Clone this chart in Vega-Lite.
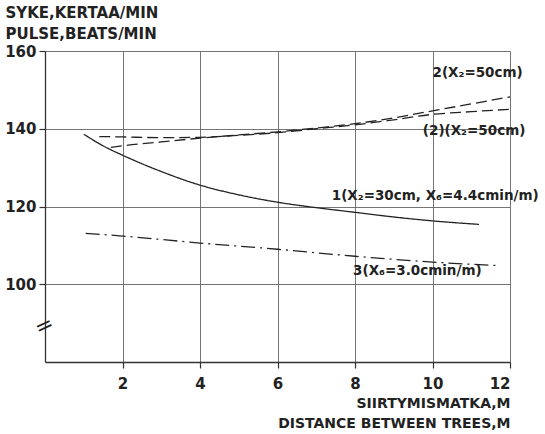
{
  "$schema": "https://vega.github.io/schema/vega-lite/v6.json",
  "width": 465,
  "height": 311,
  "autosize": {"type": "none"},
  "padding": {"left": 45, "top": 51, "right": 35, "bottom": 72},
  "background": "white",
  "config": {
    "view": {"stroke": null},
    "font": "DejaVu Sans",
    "axis": {
      "labelFont": "DejaVu Sans", "labelFontWeight": "bold", "labelFontSize": 15, "labelColor": "#222",
      "titleFont": "DejaVu Sans", "titleFontWeight": "bold", "titleFontSize": 14, "titleColor": "#222",
      "domainColor": "#333", "domainWidth": 1.3, "tickColor": "#333", "tickSize": 6, "tickWidth": 1.2,
      "gridColor": "#666", "gridWidth": 1, "gridOpacity": 0.9
    }
  },
  "datasets": {
    "curves": [
      {"series": "1", "x": 1.0, "y": 138.6},
      {"series": "1", "x": 1.5, "y": 135.6},
      {"series": "1", "x": 2, "y": 133.2},
      {"series": "1", "x": 3, "y": 129.0},
      {"series": "1", "x": 4, "y": 125.5},
      {"series": "1", "x": 5, "y": 123.0},
      {"series": "1", "x": 6, "y": 121.1},
      {"series": "1", "x": 7, "y": 119.7},
      {"series": "1", "x": 8, "y": 118.5},
      {"series": "1", "x": 9, "y": 117.3},
      {"series": "1", "x": 10, "y": 116.3},
      {"series": "1", "x": 11.2, "y": 115.4},
      {"series": "(2)", "x": 1.4, "y": 138.0},
      {"series": "(2)", "x": 2, "y": 137.9},
      {"series": "(2)", "x": 3, "y": 137.7},
      {"series": "(2)", "x": 4, "y": 137.8},
      {"series": "(2)", "x": 5, "y": 138.3},
      {"series": "(2)", "x": 6, "y": 139.0},
      {"series": "(2)", "x": 7, "y": 140.0},
      {"series": "(2)", "x": 8, "y": 141.0},
      {"series": "(2)", "x": 9, "y": 142.3},
      {"series": "(2)", "x": 10, "y": 143.7},
      {"series": "(2)", "x": 11, "y": 144.4},
      {"series": "(2)", "x": 12, "y": 145.0},
      {"series": "2", "x": 1.7, "y": 135.2},
      {"series": "2", "x": 2, "y": 135.6},
      {"series": "2", "x": 3, "y": 136.6},
      {"series": "2", "x": 4, "y": 137.6},
      {"series": "2", "x": 5, "y": 138.4},
      {"series": "2", "x": 6, "y": 139.2},
      {"series": "2", "x": 7, "y": 140.2},
      {"series": "2", "x": 8, "y": 141.3},
      {"series": "2", "x": 9, "y": 142.8},
      {"series": "2", "x": 10, "y": 144.6},
      {"series": "2", "x": 11, "y": 146.4},
      {"series": "2", "x": 12, "y": 148.2},
      {"series": "3", "x": 1.05, "y": 113.1},
      {"series": "3", "x": 2, "y": 112.4},
      {"series": "3", "x": 4, "y": 110.6},
      {"series": "3", "x": 6, "y": 109.0},
      {"series": "3", "x": 8, "y": 107.2},
      {"series": "3", "x": 10, "y": 105.7},
      {"series": "3", "x": 11.7, "y": 104.8}
    ],
    "labels": [
      {"x": 10.0, "y": 154.3, "text": "2(X₂=50cm)"},
      {"x": 9.75, "y": 139.3, "text": "(2)(X₂=50cm)"},
      {"x": 7.4, "y": 122.7, "text": "1(X₂=30cm, X₆=4.4cmin/m)"},
      {"x": 7.95, "y": 103.4, "text": "3(X₆=3.0cmin/m)"}
    ],
    "brk": [{"x": 0, "y": 89.4, "text": "="}]
  },
  "layer": [
    {
      "data": {"name": "curves"},
      "mark": {"type": "line", "color": "#222", "strokeWidth": 1.3, "interpolate": "monotone"},
      "encoding": {
        "x": {
          "field": "x", "type": "quantitative",
          "scale": {"domain": [0, 12], "nice": false},
          "axis": {
            "values": [2, 4, 6, 8, 10, 12], "grid": true, "labelPadding": 8,
            "title": ["SIIRTYMISMATKA,M", "DISTANCE BETWEEN TREES,M"],
            "titleAnchor": "end", "titleAlign": "right", "titleX": 465, "titleY": 34,
            "titleBaseline": "top", "titleLineHeight": 20
          }
        },
        "y": {
          "field": "y", "type": "quantitative",
          "scale": {"domain": [80, 160], "nice": false, "zero": false},
          "axis": {
            "values": [100, 120, 140, 160], "grid": true, "labelPadding": 3,
            "title": ["SYKE,KERTAA/MIN", "PULSE,BEATS/MIN"],
            "titleFontSize": 15,
            "titleAngle": 0, "titleAlign": "left", "titleBaseline": "top",
            "titleX": -40, "titleY": -46, "titleLineHeight": 21
          }
        },
        "detail": {"field": "series"},
        "strokeDash": {
          "field": "series", "type": "nominal",
          "scale": {"domain": ["1", "2", "(2)", "3"], "range": [[1, 0], [11, 5], [11, 5], [14, 5, 2, 5]]},
          "legend": null
        }
      }
    },
    {
      "data": {"name": "labels"},
      "mark": {"type": "text", "align": "left", "baseline": "middle", "font": "DejaVu Sans", "fontWeight": "bold", "fontSize": 13.5, "color": "#222"},
      "encoding": {
        "x": {"field": "x", "type": "quantitative"},
        "y": {"field": "y", "type": "quantitative"},
        "text": {"field": "text"}
      }
    },
    {
      "data": {"name": "brk"},
      "mark": {"type": "text", "align": "center", "baseline": "middle", "fontSize": 22, "angle": -25, "color": "#222", "dx": -1},
      "encoding": {
        "x": {"field": "x", "type": "quantitative"},
        "y": {"field": "y", "type": "quantitative"},
        "text": {"field": "text"}
      }
    }
  ]
}
